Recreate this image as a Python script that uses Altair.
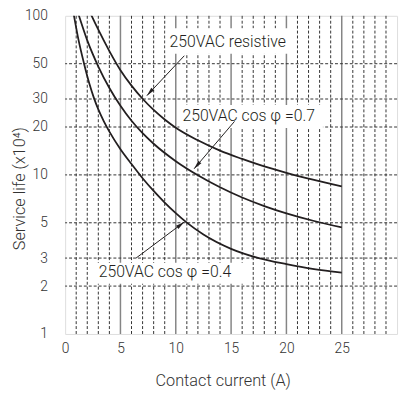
import altair as alt
import pandas as pd

FONT = "Roboto"
INK = "#231f20"

# ---- data ----
res_x = [2.1, 2.4, 3.0, 4.0, 5.0, 6.0, 7.0, 8.0, 9.0, 10.0, 12.0, 14.0, 16.0, 18.0, 20.0, 22.5, 25.0]
res_y = [110.9, 100, 81.8, 60.0, 45.5, 36.4, 30.1, 25.6, 22.3, 19.8, 16.5, 14.2, 12.6, 11.3, 10.3, 9.29, 8.47]

c07_x = [1.0, 1.25, 2.0, 3.0, 4.0, 5.0, 6.0, 7.0, 8.0, 10.0, 12.0, 14.0, 16.0, 18.0, 20.0, 22.5, 25.0]
c07_y = [112.8, 100, 70.1, 48.0, 35.2, 27.2, 21.9, 18.3, 15.7, 12.2, 9.95, 8.36, 7.21, 6.37, 5.73, 5.13, 4.68]

c04_x = [0.6, 0.8, 1.2, 1.7, 2.2, 2.6, 3.0, 3.5, 4.0, 5.0, 6.0, 7.0, 8.0, 9.0, 10.0, 11.0,
         12.5, 15.0, 17.5, 20.0, 22.5, 25.0]
c04_y = [117.5, 100, 71.1, 50.4, 37.3, 30.5, 25.8, 21.7, 18.7, 14.5, 11.7, 9.53, 7.93, 6.70,
         5.75, 5.01, 4.22, 3.43, 3.00, 2.75, 2.56, 2.43]

x_ticks = [0, 5, 10, 15, 20, 25]
y_ticks = [1, 2, 3, 5, 10, 20, 30, 50, 100]
x_major = [5, 10, 15, 20, 25]
x_minor = [i for i in range(1, 30) if i % 5 != 0]
y_grid = [2, 3, 5, 10, 20, 30, 50]

label_text = ["250VAC resistive", "250VAC cos φ =0.7", "250VAC cos φ =0.4"]
label_x = [9.44, 10.6, 3.03]
label_y = [68.1, 23.6, 2.44]

box_x = [9.08, 10.33, 2.67]
box_x2 = [20.6, 23.3, 16.2]
box_y = [83.6, 27.5, 2.80]
box_y2 = [57.7, 19.7, 2.07]

arrow_x = [10.77, 15.31, 6.41]
arrow_y = [56.1, 21.7, 3.00]
arrow_x2 = [7.39, 11.66, 10.77]
arrow_y2 = [31.5, 10.93, 5.06]
arrow_angle = [221.5, 220, 53]

# ---- tables ----
curves = pd.concat([
    pd.DataFrame({"x": res_x, "y": res_y, "s": "resistive"}),
    pd.DataFrame({"x": c07_x, "y": c07_y, "s": "cos0.7"}),
    pd.DataFrame({"x": c04_x, "y": c04_y, "s": "cos0.4"}),
])
labels = pd.DataFrame({"x": label_x, "y": label_y, "t": label_text})
boxes = pd.DataFrame({"x": box_x, "x2": box_x2, "y": box_y, "y2": box_y2})
arrows = pd.DataFrame({"x": arrow_x, "y": arrow_y, "x2": arrow_x2, "y2": arrow_y2})
heads = pd.DataFrame({"x": arrow_x2, "y": arrow_y2, "ang": arrow_angle})

xscale = alt.Scale(domain=[0, 30], nice=False, zero=False)
yscale = alt.Scale(type="log", domain=[1, 100], nice=False)
xaxis = alt.Axis(values=x_ticks, title="Contact current (A)", ticks=False, domain=False,
                 grid=False, labelPadding=8, labelFontSize=14, labelFont=FONT,
                 labelFontWeight=300, labelColor="#333", titleFont=FONT, titleFontSize=16.5,
                 titleFontWeight=300, titleColor="#333", titleX=160, titleY=47,
                 titleBaseline="middle", titleAlign="center", labelFlush=False)
yaxis = alt.Axis(values=y_ticks, title="Service life (x10⁴)", ticks=False, domain=False,
                 grid=False, labelPadding=18, labelFontSize=14, labelFont=FONT,
                 labelFontWeight=300, labelColor="#333", format="d", titleFont=FONT,
                 titleFontSize=16.5, titleFontWeight=300, titleColor="#333", titleX=-46,
                 titleY=175, titleBaseline="middle", titleAlign="center", titleAngle=270,
                 labelFlush=False)

def X(f="x"):
    return alt.X(f"{f}:Q", scale=xscale, axis=xaxis)

def Y(f="y"):
    return alt.Y(f"{f}:Q", scale=yscale, axis=yaxis)

minor = alt.Chart(pd.DataFrame({"x": x_minor})).mark_rule(
    color="#333", strokeWidth=1, strokeDash=[3, 2]).encode(x=X())
major = alt.Chart(pd.DataFrame({"x": x_major})).mark_rule(
    color="#858585", strokeWidth=1.5).encode(x=X())
hgrid = alt.Chart(pd.DataFrame({"y": y_grid})).mark_rule(
    color="#333", strokeWidth=1, strokeDash=[3, 2]).encode(y=Y())
box_layer = alt.Chart(boxes).mark_rect(color="white").encode(
    x=X(), x2="x2:Q", y=Y(), y2="y2:Q")
curve_layer = alt.Chart(curves).mark_line(
    color=INK, strokeWidth=1.8, interpolate="monotone", clip=True).encode(
    x=X(), y=Y(), detail="s:N", order=alt.Order("x:Q"))
arrow_layer = alt.Chart(arrows).mark_rule(color=INK, strokeWidth=1).encode(
    x=X(), y=Y(), x2="x2:Q", y2="y2:Q")
head_layer = alt.Chart(heads).mark_point(
    shape="M0,0L0.45,2L-0.45,2Z", filled=True, size=81, color=INK, opacity=1).encode(
    x=X(), y=Y(), angle=alt.Angle("ang:Q", scale=None))
text_layer = alt.Chart(labels).mark_text(
    align="left", baseline="middle", fontSize=16, font=FONT, fontWeight=300,
    color=INK).encode(x=X(), y=Y(), text="t:N")

chart = alt.layer(minor, major, hgrid, box_layer, curve_layer, arrow_layer, head_layer,
                  text_layer).properties(
    width=337, height=323,
    autosize=alt.AutoSizeParams(type="none"),
    padding={"left": 58, "top": 5, "right": 4, "bottom": 58},
).configure_view(stroke=INK, strokeWidth=1.5).configure(background="white")

chart.save("out.html", embed_options={"renderer": "svg", "actions": False})
